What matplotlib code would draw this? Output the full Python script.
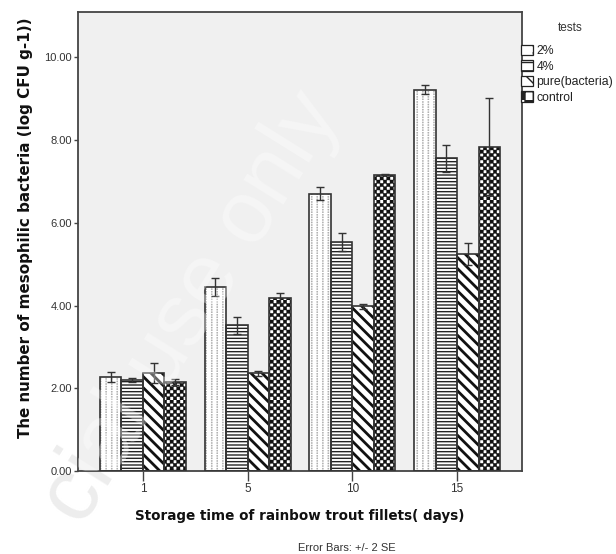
import numpy as np
import matplotlib
matplotlib.use("Agg")
import matplotlib.pyplot as plt
import matplotlib.hatch as mhatch
from matplotlib.path import Path
from matplotlib.patches import Patch
import warnings
warnings.filterwarnings("ignore")

# ---------------- data ----------------
days = ["1", "5", "10", "15"]
series = ["2%", "4%", "pure(bacteria)", "control"]
v_2pct = [2.28, 4.45, 6.71, 9.22]
v_4pct = [2.20, 3.52, 5.54, 7.56]
v_pure = [2.38, 2.36, 3.98, 5.25]
v_control = [2.16, 4.18, 7.17, 7.84]
e_2pct = [0.12, 0.22, 0.15, 0.11]
e_4pct = [0.05, 0.20, 0.21, 0.33]
e_pure = [0.24, 0.06, 0.06, 0.26]
e_control = [0.07, 0.12, 0.02, 1.17]
yticks = [0, 2, 4, 6, 8, 10]


# ---------------- custom hatches ----------------
def _square(x0, y0, s):
    return [(x0, y0), (x0 + s, y0), (x0 + s, y0 + s), (x0, y0 + s), (x0, y0)]


_SQ_CODES = [Path.MOVETO, Path.LINETO, Path.LINETO, Path.LINETO, Path.CLOSEPOLY]


class CheckerHatch(mhatch.HatchPatternBase):
    """'c' : checkerboard"""
    def __init__(self, hatch, density):
        n = int(hatch.count('c') * density)
        if n % 2:
            n += 1
        self.n = n
        self.cells = [(i, j) for i in range(n) for j in range(n) if (i + j) % 2 == 0] if n else []
        self.num_vertices = len(self.cells) * 5

    def set_vertices_and_codes(self, vertices, codes):
        s = 1.0 / self.n
        k = 0
        for i, j in self.cells:
            vertices[k:k + 5] = _square(i * s, j * s, s)
            codes[k:k + 5] = _SQ_CODES
            k += 5


class DotColumnHatch(mhatch.HatchPatternBase):
    """'k' : columns of small dots"""
    def __init__(self, hatch, density):
        n = int(hatch.count('k') * density)
        self.n = n
        self.m = int(2.2 * n)
        self.num_vertices = n * self.m * 5 if n else 0

    def set_vertices_and_codes(self, vertices, codes):
        dx = 1.0 / self.n
        dy = 1.0 / self.m
        s = 0.012
        k = 0
        for i in range(self.n):
            for j in range(self.m):
                vertices[k:k + 5] = _square(i * dx, j * dy, s)
                codes[k:k + 5] = _SQ_CODES
                k += 5


mhatch._hatch_types.append(CheckerHatch)
mhatch._hatch_types.append(DotColumnHatch)

plt.rcParams['font.family'] = ['Liberation Sans', 'DejaVu Sans']

fig = plt.figure(figsize=(6.16, 5.54), dpi=100)
fig.patch.set_facecolor('white')
ax = fig.add_axes([78 / 616, 1 - 471 / 554, (522 - 78) / 616, (471 - 12) / 554])
ax.set_facecolor('#f0f0f0')

vals = [v_2pct, v_4pct, v_pure, v_control]
errs = [e_2pct, e_4pct, e_pure, e_control]
hatches = ['kkk', '-----', '\\\\\\', 'ccccc']
hatch_cols = ['#a8a8a8', '#222222', '#111111', '#111111']
hlws = [0.2, 1.0, 2.0, 0.3]

x = np.arange(len(days))
w = 0.205
for k in range(4):
    pos = x + (k - 1.5) * w
    with plt.rc_context({'hatch.linewidth': hlws[k]}):
        ax.bar(pos, vals[k], w, color='white', edgecolor=hatch_cols[k], linewidth=0,
               hatch=hatches[k], zorder=2)
    ax.bar(pos, vals[k], w, fill=False, edgecolor='#333333', linewidth=1.2, zorder=3)
    ax.errorbar(pos, vals[k], yerr=errs[k], fmt='none', ecolor='#333333',
                elinewidth=1.0, capsize=3, capthick=1.0, zorder=4)

ax.set_xlim(-0.62, 3.62)
ax.set_ylim(0, 11.1)
ax.set_xticks(x)
ax.set_xticklabels(days)
ax.set_yticks(yticks)
ax.set_yticklabels([f"{t:.2f}" for t in yticks])
for s in ax.spines.values():
    s.set_color('#444444')
    s.set_linewidth(1.3)
ax.tick_params(axis='y', length=3, width=1, color='#444444', labelsize=8, labelcolor='#333333', pad=1.5)
ax.tick_params(axis='x', length=7, width=1, color='#444444', labelsize=8.5, labelcolor='#333333', pad=2)

ax.set_ylabel("The number of mesophilic bacteria (log CFU g-1))", fontsize=10.9,
              fontweight='bold', color='#111111', family=['DejaVu Sans'])
ax.yaxis.set_label_coords(-0.101, 0.529)
ax.set_xlabel("Storage time of rainbow trout fillets( days)", fontsize=9.75,
              fontweight='bold', color='#111111', family=['DejaVu Sans'], labelpad=10)

fig.text(347 / 616, 1 - 548 / 554, "Error Bars: +/- 2 SE", fontsize=8, color='#333333',
         ha='center', va='center')

# legend
fig.text(570 / 616, 1 - 28 / 554, "tests", fontsize=8.5, color='#333333', ha='center', va='center')
handles = [Patch(facecolor='white', edgecolor='#222222', hatch=h, linewidth=0.9)
           for h in ['k', '--', '\\\\', 'cc']]
leg = fig.legend(handles, series, loc='upper left',
                 bbox_to_anchor=(521 / 616, 1 - 45 / 554), frameon=False,
                 fontsize=8.8, handlelength=0.95, handleheight=0.9,
                 handletextpad=0.3, labelspacing=0.26, borderpad=0, borderaxespad=0)
for t in leg.get_texts():
    t.set_color('#222222')

# watermark
wm = "cial use only"
wx, wy = 82 / 616, 1 - 528 / 554
fig.text(wx, wy, wm, fontsize=64, color='#ededed', rotation=58,
         ha='left', va='baseline', rotation_mode='anchor', zorder=-1)
ax.text(wx, wy, wm, fontsize=64, color='white', alpha=0.35, rotation=58,
        ha='left', va='baseline', rotation_mode='anchor', transform=fig.transFigure,
        zorder=10, clip_on=True)

fig.savefig("out.png", dpi=100)
